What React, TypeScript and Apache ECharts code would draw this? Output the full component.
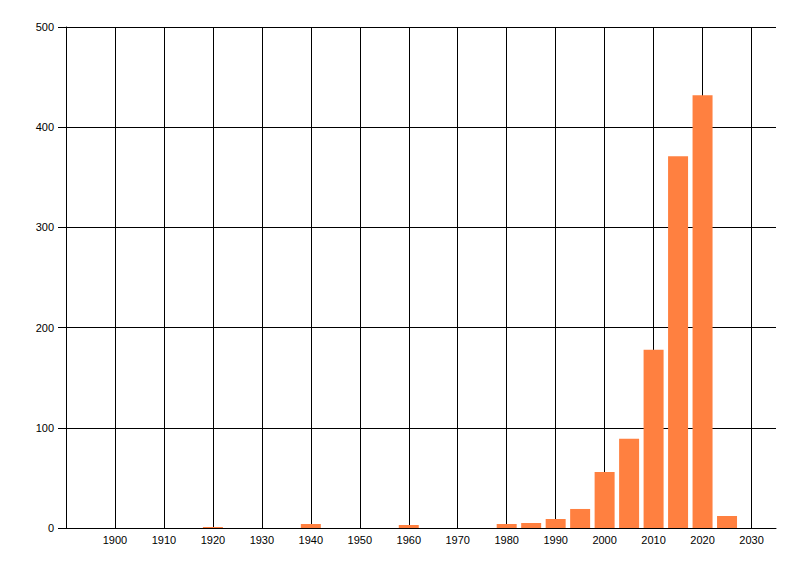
import React, { useEffect, useRef } from "react";
import * as echarts from "echarts";

const years = [1920, 1940, 1960, 1980, 1985, 1990, 1995, 2000, 2005, 2010, 2015, 2020, 2025];
const counts = [1, 4, 3, 4, 5, 9, 19, 56, 89, 178, 371, 432, 12];
const yTicks = [0, 100, 200, 300, 400, 500];
const xTickLabels = [1900, 1910, 1920, 1930, 1940, 1950, 1960, 1970, 1980, 1990, 2000, 2010, 2020, 2030];

export default function App() {
  const ref = useRef<HTMLDivElement>(null);
  useEffect(() => {
    if (!ref.current) return;
    const chart = echarts.init(ref.current, undefined, { renderer: "svg" });
    chart.setOption({
      animation: false,
      backgroundColor: "#fff",
      grid: { left: 66, right: 24, top: 27, bottom: 48, containLabel: false },
      xAxis: {
        type: "value",
        min: 1890,
        max: 2035,
        interval: 10,
        axisLine: { show: true, lineStyle: { color: "#000", width: 1 } },
        axisTick: { show: false },
        axisLabel: {
          color: "#000",
          fontFamily: "Liberation Sans, Arial, sans-serif",
          fontSize: 11,
          margin: 6,
          showMinLabel: false,
          showMaxLabel: false,
          formatter: (v: number) => (xTickLabels.indexOf(v) >= 0 ? String(v) : ""),
        },
        splitLine: {
          show: true,
          showMinLine: false,
          showMaxLine: false,
          lineStyle: { color: "#000", width: 1 },
        },
      },
      yAxis: {
        type: "value",
        min: yTicks[0],
        max: yTicks[yTicks.length - 1],
        interval: 100,
        axisLine: { show: true, lineStyle: { color: "#000", width: 1 } },
        axisTick: { show: true, inside: false, length: 8, lineStyle: { color: "#000" } },
        axisLabel: {
          color: "#000",
          fontFamily: "Liberation Sans, Arial, sans-serif",
          fontSize: 11,
          margin: 12,
        },
        splitLine: { show: true, lineStyle: { color: "#000", width: 1 } },
      },
      series: [
        {
          type: "bar",
          data: years.map((y, i) => [y, counts[i]]),
          barWidth: 20,
          itemStyle: { color: "#FF8040" },
        },
      ],
    });
    return () => chart.dispose();
  }, []);
  return (
    <div
      ref={ref}
      style={{ position: "absolute", left: 0, top: 0, width: 800, height: 576, background: "#fff" }}
    />
  );
}
